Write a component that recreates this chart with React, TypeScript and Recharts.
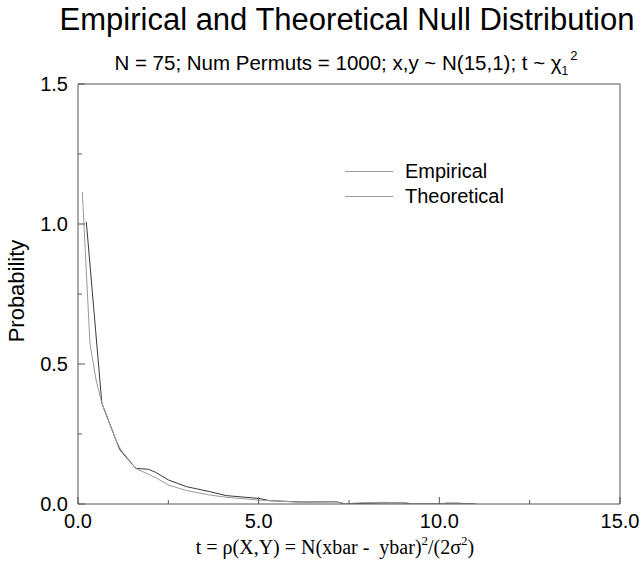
import React from 'react';
import { LineChart, Line, XAxis, YAxis, Legend } from 'recharts';

// values
const empiricalT = [0.23, 0.66, 1.07, 1.16, 1.6, 1.95, 2.15, 2.5, 3.0, 3.65, 4.1, 5.0, 5.3, 6.2, 7.15, 7.4, 7.8, 8.4, 9.0, 9.3, 10.0, 10.2, 10.5, 11.0];
const empiricalP = [1.008, 0.36, 0.222, 0.193, 0.127, 0.124, 0.113, 0.086, 0.062, 0.044, 0.03, 0.02, 0.012, 0.007, 0.008, 0.0, 0.002, 0.004, 0.004, 0.0, 0.0, 0.003, 0.003, 0.0];

const theoreticalT = [0.12, 0.33, 0.5, 0.66, 1.07, 1.19, 1.6, 2.18, 2.5, 3.0, 3.65, 4.1, 5.0, 6.2, 7.1, 7.4, 7.8, 8.4, 9.0, 9.3, 10.2, 10.5, 11.0];
const theoreticalP = [1.115, 0.574, 0.443, 0.36, 0.222, 0.193, 0.127, 0.092, 0.068, 0.048, 0.032, 0.024, 0.014, 0.006, 0.008, 0.001, 0.004, 0.006, 0.005, 0.0, 0.002, 0.002, 0.0];

const xTicks = [0, 2.5, 5, 7.5, 10, 12.5, 15];
const xTickLabels = ['0.0', '', '5.0', '', '10.0', '', '15.0'];
const yTicks = [0, 0.25, 0.5, 0.75, 1, 1.25, 1.5];
const yTickLabels = ['0.0', '', '0.5', '', '1.0', '', '1.5'];

const empiricalData = empiricalT.map((t, i) => ({ t, p: empiricalP[i] }));
const theoreticalData = theoreticalT.map((t, i) => ({ t, p: theoreticalP[i] }));

const SANS = '"Liberation Sans", Arial, Helvetica, sans-serif';
const SERIF = '"Liberation Serif", "Times New Roman", serif';
const FRAME = '#555';

// inward pointing ticks, longer on the labelled (major) values
const makeTick = (side: 'bottom' | 'top' | 'left' | 'right', ticks: number[], labels: string[], showLabels: boolean) =>
  (props: any) => {
    const { x, y, payload } = props;
    const idx = ticks.indexOf(payload.value);
    const major = idx % 2 === 0;
    const len = major ? 7 : 4;
    const label = showLabels && idx >= 0 ? labels[idx] : '';
    let x2 = x, y2 = y;
    if (side === 'bottom') y2 = y - len;
    if (side === 'top') y2 = y + len;
    if (side === 'left') x2 = x + len;
    if (side === 'right') x2 = x - len;
    return (
      <g>
        <line x1={x} y1={y} x2={x2} y2={y2} stroke={FRAME} strokeWidth={1} />
        {label && side === 'bottom' && (
          <text x={x} y={y + 24} textAnchor="middle" fontFamily={SANS} fontSize={20} fill="#000">{label}</text>
        )}
        {label && side === 'left' && (
          <text x={x - 10} y={y + 7} textAnchor="end" fontFamily={SANS} fontSize={20} fill="#000">{label}</text>
        )}
      </g>
    );
  };

const renderLegend = (props: any) => (
  <div style={{ fontFamily: SANS, fontSize: 20, color: '#000' }}>
    {(props.payload || []).map((e: any) => (
      <div key={e.value} style={{ display: 'flex', alignItems: 'center', height: 25 }}>
        <svg width={65} height={25}>
          <line x1={5} y1={12.5} x2={53} y2={12.5} stroke="#999" strokeWidth={1} />
        </svg>
        <span>{e.value}</span>
      </div>
    ))}
  </div>
);

export default function App() {
  return (
    <div style={{ position: 'absolute', left: 0, top: 0, width: 642, height: 565, background: '#fff' }}>
      <LineChart width={642} height={565} margin={{ top: 83, right: 21, bottom: 60, left: 77 }}>
        <XAxis
          xAxisId="b"
          dataKey="t"
          type="number"
          domain={[0, 15]}
          ticks={xTicks}
          interval={0}
          height={1}
          tickSize={0}
          tickMargin={0}
          tickLine={false}
          axisLine={{ stroke: FRAME }}
          tick={makeTick('bottom', xTicks, xTickLabels, true)}
          allowDataOverflow
        />
        <XAxis
          xAxisId="t"
          orientation="top"
          type="number"
          domain={[0, 15]}
          ticks={xTicks}
          interval={0}
          height={1}
          tickSize={0}
          tickMargin={0}
          tickLine={false}
          axisLine={{ stroke: FRAME }}
          tick={makeTick('top', xTicks, xTickLabels, false)}
        />
        <YAxis
          yAxisId="l"
          type="number"
          domain={[0, 1.5]}
          ticks={yTicks}
          interval={0}
          width={1}
          tickSize={0}
          tickMargin={0}
          tickLine={false}
          axisLine={{ stroke: FRAME }}
          tick={makeTick('left', yTicks, yTickLabels, true)}
          allowDataOverflow
        />
        <YAxis
          yAxisId="r"
          orientation="right"
          type="number"
          domain={[0, 1.5]}
          ticks={yTicks}
          interval={0}
          width={1}
          tickSize={0}
          tickMargin={0}
          tickLine={false}
          axisLine={{ stroke: FRAME }}
          tick={makeTick('right', yTicks, yTickLabels, false)}
        />
        <Legend
          layout="vertical"
          align="center"
          verticalAlign="middle"
          wrapperStyle={{ left: 340, top: 158.5, width: 220 }}
          content={renderLegend}
        />
        <Line
          xAxisId="b"
          yAxisId="l"
          data={empiricalData}
          dataKey="p"
          name="Empirical"
          type="linear"
          stroke="#3a3a3a"
          strokeWidth={1}
          dot={false}
          isAnimationActive={false}
        />
        <Line
          xAxisId="b"
          yAxisId="l"
          data={theoreticalData}
          dataKey="p"
          name="Theoretical"
          type="linear"
          stroke="#9a9a9a"
          strokeWidth={1}
          dot={false}
          isAnimationActive={false}
        />
      </LineChart>
      <svg width={642} height={565} style={{ position: 'absolute', left: 0, top: 0, pointerEvents: 'none' }}>
        <text x={347} y={30} textAnchor="middle" fontFamily={SANS} fontSize={31} fill="#000">
          Empirical and Theoretical Null Distribution
        </text>
        <text x={346} y={70} textAnchor="middle" fontFamily={SANS} fontSize={20.5} fill="#000">
          N = 75; Num Permuts = 1000; x,y ~ N(15,1); t ~ χ
          <tspan fontSize={12} dy={5}>1</tspan>
          <tspan fontSize={13} dy={-15} dx={2}>2</tspan>
        </text>
        <text transform="translate(24,291) rotate(-90)" textAnchor="middle" fontFamily={SANS} fontSize={22} fill="#000">
          Probability
        </text>
        <text x={335} y={554} textAnchor="middle" fontFamily={SERIF} fontSize={20} fill="#000" style={{ whiteSpace: 'pre' }}>
          {'t = ρ(X,Y) = N(xbar -  ybar)'}
          <tspan fontSize={13} dy={-9}>2</tspan>
          <tspan dy={9}>{'/(2σ'}</tspan>
          <tspan fontSize={13} dy={-9}>2</tspan>
          <tspan dy={9}>)</tspan>
        </text>
      </svg>
    </div>
  );
}
